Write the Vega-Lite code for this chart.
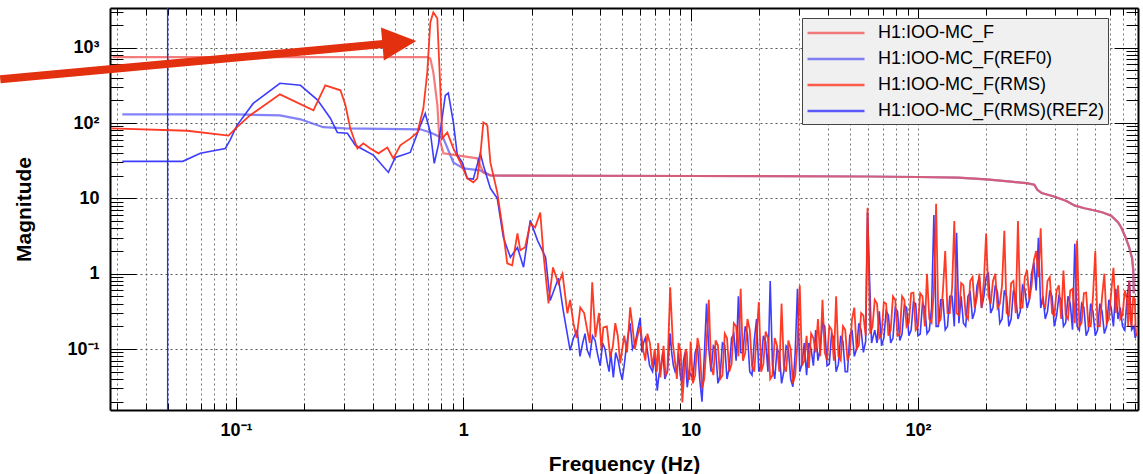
{
  "$schema": "https://vega.github.io/schema/vega-lite/v6.json",
  "width": 1028,
  "height": 402,
  "autosize": {"type": "none"},
  "padding": {"left": 110, "top": 8, "right": 5, "bottom": 64},
  "background": "white",
  "config": {
    "view": {"stroke": null},
    "font": "Liberation Sans",
    "axis": {"labelFont": "Liberation Sans", "titleFont": "Liberation Sans", "tickColor": "#000", "domainColor": "#000", "domainWidth": 2, "labelColor": "#000", "titleColor": "#000", "tickWidth": 1},
    "legend": {
      "orient": "none", "legendX": 692, "legendY": 10,
      "symbolType": "M-1,0H5", "symbolSize": 361, "symbolStrokeWidth": 2.5,
      "labelFont": "Liberation Sans", "labelFontSize": 18, "labelColor": "#000", "labelOffset": 50, "labelLimit": 500,
      "fillColor": "#f0f0f0", "strokeColor": "#444", "padding": 4, "rowPadding": 6, "cornerRadius": 0
    }
  },
  "datasets": {
    "tr": [
      {"s":"b","f":0.0316,"v":130},{"s":"b","f":0.101,"v":130},{"s":"b","f":0.156,"v":126},{"s":"b","f":0.192,"v":112},{"s":"b","f":0.242,"v":88},{"s":"b","f":0.303,"v":85},{"s":"b","f":0.647,"v":82.5},{"s":"b","f":0.716,"v":75},{"s":"b","f":0.817,"v":62.5},{"s":"b","f":0.904,"v":30},{"s":"b","f":1.0,"v":25},{"s":"b","f":1.188,"v":23.5},{"s":"b","f":1.315,"v":20.2},{"s":"b","f":1.5,"v":20},{"s":"b","f":10,"v":19.8},{"s":"b","f":60,"v":19.5},{"s":"b","f":100,"v":19.2},{"s":"b","f":150,"v":18.8},{"s":"b","f":200,"v":17.9},{"s":"b","f":250,"v":16.8},{"s":"b","f":300,"v":15.9},{"s":"b","f":325,"v":15.2},{"s":"b","f":335,"v":13},{"s":"b","f":350,"v":11.8},{"s":"b","f":400,"v":10.5},{"s":"b","f":450,"v":9.2},{"s":"b","f":490,"v":8.0},{"s":"b","f":540,"v":7.4},{"s":"b","f":600,"v":6.9},{"s":"b","f":650,"v":6.5},{"s":"b","f":708,"v":5.9},{"s":"b","f":760,"v":4.8},{"s":"b","f":784,"v":4.1},{"s":"b","f":820,"v":3.0},{"s":"b","f":851,"v":2.2},{"s":"b","f":875,"v":1.6},{"s":"b","f":886,"v":1.1},{"s":"b","f":890,"v":0.55},
      {"s":"a","f":0.0286,"v":750},{"s":"a","f":0.694,"v":750},{"s":"a","f":0.716,"v":720},{"s":"a","f":0.738,"v":471},{"s":"a","f":0.769,"v":172},{"s":"a","f":0.784,"v":62.5},{"s":"a","f":0.817,"v":39.6},{"s":"a","f":1.152,"v":34},{"s":"a","f":1.225,"v":22},{"s":"a","f":1.315,"v":20.2},{"s":"a","f":1.5,"v":20},{"s":"a","f":10,"v":19.8},{"s":"a","f":60,"v":19.5},{"s":"a","f":100,"v":19.2},{"s":"a","f":150,"v":18.8},{"s":"a","f":200,"v":17.9},{"s":"a","f":250,"v":16.8},{"s":"a","f":300,"v":15.9},{"s":"a","f":325,"v":15.2},{"s":"a","f":335,"v":13},{"s":"a","f":350,"v":11.8},{"s":"a","f":400,"v":10.5},{"s":"a","f":450,"v":9.2},{"s":"a","f":490,"v":8.0},{"s":"a","f":540,"v":7.4},{"s":"a","f":600,"v":6.9},{"s":"a","f":650,"v":6.5},{"s":"a","f":708,"v":5.9},{"s":"a","f":760,"v":4.8},{"s":"a","f":784,"v":4.1},{"s":"a","f":820,"v":3.0},{"s":"a","f":851,"v":2.2},{"s":"a","f":875,"v":1.6},{"s":"a","f":886,"v":1.1},{"s":"a","f":890,"v":0.55},
      {"s":"d","f":0.0316,"v":31},{"s":"d","f":0.0583,"v":31},{"s":"d","f":0.0697,"v":39.6},{"s":"d","f":0.0897,"v":46},{"s":"d","f":0.094,"v":59},{"s":"d","f":0.101,"v":93},{"s":"d","f":0.119,"v":182},{"s":"d","f":0.156,"v":337},{"s":"d","f":0.192,"v":317},{"s":"d","f":0.228,"v":203},{"s":"d","f":0.26,"v":116},{"s":"d","f":0.279,"v":75},{"s":"d","f":0.309,"v":73},{"s":"d","f":0.335,"v":50.6},{"s":"d","f":0.402,"v":37.5},{"s":"d","f":0.468,"v":22.1},{"s":"d","f":0.502,"v":35},{"s":"d","f":0.584,"v":40.7},{"s":"d","f":0.647,"v":93},{"s":"d","f":0.68,"v":134},{"s":"d","f":0.716,"v":75},{"s":"d","f":0.745,"v":29.2},{"s":"d","f":0.776,"v":50.6},{"s":"d","f":0.833,"v":232},{"s":"d","f":0.859,"v":250},{"s":"d","f":0.904,"v":102},{"s":"d","f":0.941,"v":37.5},{"s":"d","f":0.99,"v":30},{"s":"d","f":1.041,"v":18.4},{"s":"d","f":1.106,"v":18},{"s":"d","f":1.188,"v":39.6},{"s":"d","f":1.225,"v":27.5},{"s":"d","f":1.315,"v":13.6},{"s":"d","f":1.41,"v":10},{"s":"d","f":1.5,"v":3.03},{"s":"d","f":1.61,"v":1.65},{"s":"d","f":1.73,"v":2.23},{"s":"d","f":1.84,"v":1.22},{"s":"d","f":1.97,"v":5.1},{"s":"d","f":2.12,"v":2.77},{"s":"d","f":2.3,"v":1.65},{"s":"d","f":2.41,"v":0.44},{"s":"d","f":2.62,"v":0.87},{"s":"d","f":2.75,"v":0.326},{"s":"d","f":2.95,"v":0.096},{"s":"d","f":3.17,"v":0.177},{"s":"d","f":3.35,"v":0.12},{"s":"d","f":3.51,"v":0.096},{"s":"d","f":3.7,"v":0.15},{"s":"d","f":3.89,"v":0.087},{"s":"d","f":4.1,"v":0.12},{"s":"d","f":4.3,"v":0.065},{"s":"d","f":4.45,"v":0.09},{"s":"d","f":4.57,"v":0.042},{"s":"d","f":4.8,"v":0.07},{"s":"d","f":5.0,"v":0.039},{"s":"d","f":5.2,"v":0.1},{"s":"d","f":5.42,"v":0.22},{"s":"d","f":5.7,"v":0.12},{"s":"d","f":6.0,"v":0.26},{"s":"d","f":6.2,"v":0.12},{"s":"d","f":6.45,"v":0.096},{"s":"d","f":6.8,"v":0.05},{"s":"d","f":7.13,"v":0.028},{"s":"d","f":7.4,"v":0.06},{"s":"d","f":7.7,"v":0.04},{"s":"d","f":8.13,"v":0.16},{"s":"d","f":8.4,"v":0.06},{"s":"d","f":8.73,"v":0.057},{"s":"d","f":9.0,"v":0.045},{"s":"d","f":9.3,"v":0.07},{"s":"d","f":9.66,"v":0.031},
      {"s":"d","f":3.05,"v":0.14},{"s":"d","f":3.26,"v":0.08},{"s":"d","f":3.43,"v":0.16},{"s":"d","f":3.6,"v":0.08},{"s":"d","f":3.8,"v":0.13},{"s":"d","f":4.0,"v":0.06},{"s":"d","f":4.2,"v":0.1},{"s":"d","f":4.38,"v":0.05},{"s":"d","f":4.68,"v":0.09},{"s":"d","f":4.9,"v":0.05},{"s":"d","f":5.1,"v":0.06},{"s":"d","f":5.3,"v":0.15},{"s":"d","f":5.55,"v":0.1},{"s":"d","f":5.85,"v":0.18},{"s":"d","f":6.1,"v":0.09},{"s":"d","f":6.32,"v":0.14},{"s":"d","f":6.6,"v":0.06},{"s":"d","f":6.95,"v":0.08},{"s":"d","f":7.25,"v":0.045},{"s":"d","f":7.55,"v":0.09},{"s":"d","f":7.9,"v":0.05},{"s":"d","f":8.25,"v":0.09},{"s":"d","f":8.55,"v":0.05},{"s":"d","f":8.85,"v":0.09},{"s":"d","f":9.15,"v":0.035},{"s":"d","f":9.45,"v":0.09},{"s":"d","f":9.85,"v":0.05},
      {"s":"d","f":10.23,"v":0.04},{"s":"d","f":10.72,"v":0.112},{"s":"d","f":11.22,"v":0.02},{"s":"d","f":11.75,"v":0.4},{"s":"d","f":12.3,"v":0.05},{"s":"d","f":12.88,"v":0.1},{"s":"d","f":13.49,"v":0.045},{"s":"d","f":14.13,"v":0.112},{"s":"d","f":14.79,"v":0.056},{"s":"d","f":15.49,"v":0.158},{"s":"d","f":16.22,"v":0.5},{"s":"d","f":16.98,"v":0.089},{"s":"d","f":17.78,"v":0.158},{"s":"d","f":18.62,"v":0.045},{"s":"d","f":19.5,"v":0.25},{"s":"d","f":20.42,"v":0.063},{"s":"d","f":21.38,"v":0.126},{"s":"d","f":22.39,"v":0.8},{"s":"d","f":23.44,"v":0.04},{"s":"d","f":24.55,"v":0.089},{"s":"d","f":25.7,"v":0.05},{"s":"d","f":26.92,"v":0.1},{"s":"d","f":28.18,"v":0.0316},{"s":"d","f":29.51,"v":0.63},{"s":"d","f":30.9,"v":0.063},{"s":"d","f":32.36,"v":0.045},{"s":"d","f":33.88,"v":0.1},{"s":"d","f":35.48,"v":0.178},{"s":"d","f":37.15,"v":0.1},{"s":"d","f":38.9,"v":0.2},{"s":"d","f":40.74,"v":0.063},{"s":"d","f":42.66,"v":0.14},{"s":"d","f":44.67,"v":0.063},{"s":"d","f":46.77,"v":0.126},{"s":"d","f":48.98,"v":0.05},{"s":"d","f":51.29,"v":0.178},{"s":"d","f":53.7,"v":0.1},{"s":"d","f":56.23,"v":0.178},{"s":"d","f":58.88,"v":0.126},{"s":"d","f":60.0,"v":6.5},{"s":"d","f":64.57,"v":0.178},{"s":"d","f":67.61,"v":0.316},{"s":"d","f":70.79,"v":0.14},{"s":"d","f":74.13,"v":0.28},{"s":"d","f":77.62,"v":0.14},{"s":"d","f":81.28,"v":0.316},{"s":"d","f":85.11,"v":0.158},{"s":"d","f":89.13,"v":0.355},{"s":"d","f":93.33,"v":0.178},{"s":"d","f":97.72,"v":0.4},{"s":"d","f":102.3,"v":0.158},{"s":"d","f":107.2,"v":0.355},{"s":"d","f":112.2,"v":0.178},{"s":"d","f":117.5,"v":6.0},{"s":"d","f":123,"v":0.2},{"s":"d","f":128.8,"v":0.45},{"s":"d","f":134.9,"v":0.2},{"s":"d","f":141.3,"v":0.5},{"s":"d","f":147.9,"v":3.5},{"s":"d","f":154.9,"v":0.5},{"s":"d","f":162.2,"v":0.2},{"s":"d","f":169.8,"v":0.56},{"s":"d","f":177.8,"v":0.316},{"s":"d","f":186.2,"v":0.9},{"s":"d","f":195,"v":0.5},{"s":"d","f":204.2,"v":1.0},{"s":"d","f":213.8,"v":0.355},{"s":"d","f":223.9,"v":0.56},{"s":"d","f":234.4,"v":0.25},{"s":"d","f":245.5,"v":0.5},{"s":"d","f":257,"v":0.25},{"s":"d","f":269.2,"v":0.5},{"s":"d","f":281.8,"v":0.316},{"s":"d","f":295.1,"v":0.63},{"s":"d","f":309,"v":0.45},{"s":"d","f":323.6,"v":1.41},{"s":"d","f":338.8,"v":3.0},{"s":"d","f":354.8,"v":0.5},{"s":"d","f":371.5,"v":0.316},{"s":"d","f":389,"v":0.5},{"s":"d","f":407.4,"v":0.28},{"s":"d","f":426.6,"v":0.45},{"s":"d","f":446.7,"v":0.224},{"s":"d","f":467.7,"v":0.4},{"s":"d","f":489.8,"v":2.5},{"s":"d","f":512.9,"v":0.178},{"s":"d","f":537,"v":0.355},{"s":"d","f":562.3,"v":0.178},{"s":"d","f":588.8,"v":0.316},{"s":"d","f":616.6,"v":0.178},{"s":"d","f":645.7,"v":0.316},{"s":"d","f":676.1,"v":0.2},{"s":"d","f":707.9,"v":0.355},{"s":"d","f":741.3,"v":0.63},{"s":"d","f":776.2,"v":0.355},{"s":"d","f":812.8,"v":0.178},{"s":"d","f":851.1,"v":0.8},{"s":"d","f":891.3,"v":0.2},{"s":"d","f":915,"v":0.16},
      {"s":"d","f":10.47,"v":0.09},{"s":"d","f":10.96,"v":0.04},{"s":"d","f":11.48,"v":0.08},{"s":"d","f":12.02,"v":0.1},{"s":"d","f":12.59,"v":0.11},{"s":"d","f":13.18,"v":0.035},{"s":"d","f":13.8,"v":0.12},{"s":"d","f":14.45,"v":0.04},{"s":"d","f":15.14,"v":0.14},{"s":"d","f":15.85,"v":0.07},{"s":"d","f":16.6,"v":0.09},{"s":"d","f":17.38,"v":0.2},{"s":"d","f":18.2,"v":0.05},{"s":"d","f":19.05,"v":0.13},{"s":"d","f":19.95,"v":0.05},{"s":"d","f":20.89,"v":0.15},{"s":"d","f":21.88,"v":0.05},{"s":"d","f":22.91,"v":0.06},{"s":"d","f":23.99,"v":0.1},{"s":"d","f":25.12,"v":0.035},{"s":"d","f":26.3,"v":0.11},{"s":"d","f":27.54,"v":0.04},{"s":"d","f":28.84,"v":0.09},{"s":"d","f":30.2,"v":0.05},{"s":"d","f":31.62,"v":0.12},{"s":"d","f":33.11,"v":0.12},{"s":"d","f":34.67,"v":0.06},{"s":"d","f":36.31,"v":0.07},{"s":"d","f":38.02,"v":0.22},{"s":"d","f":39.81,"v":0.06},{"s":"d","f":41.69,"v":0.16},{"s":"d","f":43.65,"v":0.05},{"s":"d","f":45.71,"v":0.15},{"s":"d","f":47.86,"v":0.05},{"s":"d","f":50.12,"v":0.15},{"s":"d","f":52.48,"v":0.08},{"s":"d","f":54.95,"v":0.22},{"s":"d","f":57.54,"v":0.09},{"s":"d","f":62.5,"v":0.12},{"s":"d","f":66.07,"v":0.12},{"s":"d","f":69.18,"v":0.11},{"s":"d","f":72.44,"v":0.32},{"s":"d","f":75.86,"v":0.12},{"s":"d","f":79.43,"v":0.35},{"s":"d","f":83.18,"v":0.13},{"s":"d","f":87.1,"v":0.38},{"s":"d","f":91.2,"v":0.15},{"s":"d","f":95.5,"v":0.42},{"s":"d","f":100,"v":0.15},{"s":"d","f":104.7,"v":0.4},{"s":"d","f":109.6,"v":0.16},{"s":"d","f":114.8,"v":0.35},{"s":"d","f":120.2,"v":0.2},{"s":"d","f":125.9,"v":0.45},{"s":"d","f":131.8,"v":0.18},{"s":"d","f":138,"v":0.5},{"s":"d","f":144.5,"v":0.2},{"s":"d","f":151.4,"v":0.22},{"s":"d","f":158.5,"v":0.22},{"s":"d","f":166,"v":0.5},{"s":"d","f":173.8,"v":0.25},{"s":"d","f":182,"v":0.7},{"s":"d","f":190.5,"v":0.35},{"s":"d","f":199.5,"v":0.9},{"s":"d","f":208.9,"v":0.3},{"s":"d","f":218.8,"v":0.7},{"s":"d","f":229.1,"v":0.22},{"s":"d","f":239.9,"v":0.6},{"s":"d","f":251.2,"v":0.2},{"s":"d","f":263,"v":0.6},{"s":"d","f":275.4,"v":0.25},{"s":"d","f":288.4,"v":0.7},{"s":"d","f":302,"v":0.35},{"s":"d","f":316.2,"v":1.0},{"s":"d","f":331.1,"v":0.6},{"s":"d","f":346.7,"v":0.35},{"s":"d","f":363.1,"v":0.25},{"s":"d","f":380.2,"v":0.6},{"s":"d","f":398.1,"v":0.2},{"s":"d","f":416.9,"v":0.5},{"s":"d","f":436.5,"v":0.2},{"s":"d","f":457.1,"v":0.5},{"s":"d","f":478.6,"v":0.18},{"s":"d","f":501.2,"v":0.2},{"s":"d","f":524.8,"v":0.4},{"s":"d","f":549.5,"v":0.15},{"s":"d","f":575.4,"v":0.4},{"s":"d","f":602.6,"v":0.15},{"s":"d","f":631,"v":0.4},{"s":"d","f":660.7,"v":0.16},{"s":"d","f":691.8,"v":0.45},{"s":"d","f":724.4,"v":0.2},{"s":"d","f":758.6,"v":0.25},{"s":"d","f":794.3,"v":0.2},{"s":"d","f":831.8,"v":0.5},{"s":"d","f":871,"v":0.18},{"s":"d","f":903,"v":0.14},
      {"s":"c","f":0.0282,"v":85},{"s":"c","f":0.061,"v":79},{"s":"c","f":0.0927,"v":68},{"s":"c","f":0.101,"v":88},{"s":"c","f":0.1155,"v":127},{"s":"c","f":0.156,"v":240},{"s":"c","f":0.219,"v":147},{"s":"c","f":0.247,"v":317},{"s":"c","f":0.288,"v":272},{"s":"c","f":0.303,"v":172},{"s":"c","f":0.318,"v":85},{"s":"c","f":0.342,"v":46},{"s":"c","f":0.363,"v":53.7},{"s":"c","f":0.39,"v":46},{"s":"c","f":0.423,"v":39.6},{"s":"c","f":0.463,"v":47.3},{"s":"c","f":0.492,"v":34},{"s":"c","f":0.528,"v":50.6},{"s":"c","f":0.585,"v":62.5},{"s":"c","f":0.628,"v":75},{"s":"c","f":0.667,"v":157},{"s":"c","f":0.694,"v":471},{"s":"c","f":0.716,"v":2175},{"s":"c","f":0.738,"v":2950},{"s":"c","f":0.768,"v":2455},{"s":"c","f":0.792,"v":289},{"s":"c","f":0.808,"v":62.5},{"s":"c","f":0.85,"v":75},{"s":"c","f":0.904,"v":46},{"s":"c","f":0.97,"v":30},{"s":"c","f":1.041,"v":18.4},{"s":"c","f":1.106,"v":16.3},{"s":"c","f":1.152,"v":18.4},{"s":"c","f":1.188,"v":37.5},{"s":"c","f":1.225,"v":102},{"s":"c","f":1.275,"v":93},{"s":"c","f":1.315,"v":30},{"s":"c","f":1.41,"v":12},{"s":"c","f":1.5,"v":3.43},{"s":"c","f":1.56,"v":1.37},{"s":"c","f":1.64,"v":1.29},{"s":"c","f":1.73,"v":3.43},{"s":"c","f":1.78,"v":2.04},{"s":"c","f":1.87,"v":2.24},{"s":"c","f":1.97,"v":4.66},{"s":"c","f":2.07,"v":4.12},{"s":"c","f":2.18,"v":6.5},{"s":"c","f":2.25,"v":1.86},{"s":"c","f":2.37,"v":0.404},{"s":"c","f":2.48,"v":1.21},{"s":"c","f":2.62,"v":0.74},{"s":"c","f":2.73,"v":1.0},{"s":"c","f":2.87,"v":0.297},{"s":"c","f":3.05,"v":0.22},{"s":"c","f":3.27,"v":0.357},{"s":"c","f":3.51,"v":0.177},{"s":"c","f":3.69,"v":0.766},{"s":"c","f":3.81,"v":0.143},{"s":"c","f":4.13,"v":0.194},{"s":"c","f":4.43,"v":0.078},{"s":"c","f":4.66,"v":0.22},{"s":"c","f":4.9,"v":0.0645},{"s":"c","f":5.1,"v":0.15},{"s":"c","f":5.25,"v":0.09},{"s":"c","f":5.42,"v":0.357},{"s":"c","f":5.82,"v":0.143},{"s":"c","f":6.19,"v":0.096},{"s":"c","f":6.45,"v":0.16},{"s":"c","f":6.78,"v":0.057},{"s":"c","f":7.35,"v":0.042},{"s":"c","f":7.6,"v":0.11},{"s":"c","f":7.9,"v":0.05},{"s":"c","f":8.13,"v":0.66},{"s":"c","f":8.55,"v":0.0645},{"s":"c","f":8.85,"v":0.12},{"s":"c","f":9.19,"v":0.0195},{"s":"c","f":9.5,"v":0.1},{"s":"c","f":9.75,"v":0.04},
      {"s":"c","f":2.95,"v":0.45},{"s":"c","f":3.15,"v":0.14},{"s":"c","f":3.4,"v":0.3},{"s":"c","f":3.6,"v":0.12},{"s":"c","f":3.95,"v":0.3},{"s":"c","f":4.05,"v":0.1},{"s":"c","f":4.28,"v":0.2},{"s":"c","f":4.55,"v":0.11},{"s":"c","f":4.78,"v":0.15},{"s":"c","f":5.55,"v":0.2},{"s":"c","f":5.68,"v":0.1},{"s":"c","f":6.0,"v":0.2},{"s":"c","f":6.32,"v":0.07},{"s":"c","f":6.62,"v":0.12},{"s":"c","f":6.95,"v":0.1},{"s":"c","f":7.1,"v":0.05},{"s":"c","f":7.2,"v":0.12},{"s":"c","f":7.75,"v":0.045},{"s":"c","f":8.35,"v":0.12},{"s":"c","f":8.7,"v":0.04},{"s":"c","f":9.05,"v":0.09},{"s":"c","f":9.35,"v":0.045},{"s":"c","f":9.62,"v":0.09},{"s":"c","f":9.88,"v":0.04},
      {"s":"c","f":10.0,"v":0.126},{"s":"c","f":10.47,"v":0.045},{"s":"c","f":10.96,"v":0.1},{"s":"c","f":11.48,"v":0.04},{"s":"c","f":12.02,"v":0.45},{"s":"c","f":12.59,"v":0.045},{"s":"c","f":13.18,"v":0.112},{"s":"c","f":13.8,"v":0.045},{"s":"c","f":14.45,"v":0.14},{"s":"c","f":15.14,"v":0.063},{"s":"c","f":15.85,"v":0.2},{"s":"c","f":16.6,"v":0.63},{"s":"c","f":17.38,"v":0.089},{"s":"c","f":18.2,"v":0.18},{"s":"c","f":19.05,"v":0.05},{"s":"c","f":19.95,"v":0.42},{"s":"c","f":20.89,"v":0.063},{"s":"c","f":21.88,"v":0.14},{"s":"c","f":22.91,"v":0.045},{"s":"c","f":23.99,"v":0.112},{"s":"c","f":25.12,"v":0.4},{"s":"c","f":26.3,"v":0.05},{"s":"c","f":27.54,"v":0.1},{"s":"c","f":28.84,"v":0.045},{"s":"c","f":30.2,"v":0.7},{"s":"c","f":31.62,"v":0.07},{"s":"c","f":33.11,"v":0.056},{"s":"c","f":34.67,"v":0.14},{"s":"c","f":36.31,"v":0.25},{"s":"c","f":38.02,"v":0.45},{"s":"c","f":39.81,"v":0.071},{"s":"c","f":41.69,"v":0.18},{"s":"c","f":43.65,"v":0.5},{"s":"c","f":45.71,"v":0.071},{"s":"c","f":47.86,"v":0.18},{"s":"c","f":50.12,"v":0.089},{"s":"c","f":52.48,"v":0.355},{"s":"c","f":54.95,"v":0.112},{"s":"c","f":57.54,"v":0.28},{"s":"c","f":60.0,"v":7.5},{"s":"c","f":63.1,"v":0.2},{"s":"c","f":66.07,"v":0.4},{"s":"c","f":69.18,"v":0.158},{"s":"c","f":72.44,"v":0.4},{"s":"c","f":75.86,"v":0.178},{"s":"c","f":79.43,"v":0.45},{"s":"c","f":83.18,"v":0.158},{"s":"c","f":87.1,"v":0.45},{"s":"c","f":91.2,"v":0.224},{"s":"c","f":95.5,"v":0.56},{"s":"c","f":100,"v":0.2},{"s":"c","f":104.7,"v":0.5},{"s":"c","f":109.6,"v":1.0},{"s":"c","f":114.8,"v":0.224},{"s":"c","f":120.2,"v":8.5},{"s":"c","f":125.9,"v":0.25},{"s":"c","f":131.8,"v":2.0},{"s":"c","f":138,"v":0.3},{"s":"c","f":144.5,"v":5.0},{"s":"c","f":151.4,"v":0.28},{"s":"c","f":158.5,"v":0.7},{"s":"c","f":166,"v":0.25},{"s":"c","f":173.8,"v":0.9},{"s":"c","f":182,"v":0.5},{"s":"c","f":190.5,"v":0.35},{"s":"c","f":199.5,"v":3.4},{"s":"c","f":208.9,"v":0.4},{"s":"c","f":218.8,"v":1.0},{"s":"c","f":229.1,"v":0.4},{"s":"c","f":239.9,"v":3.7},{"s":"c","f":251.2,"v":0.28},{"s":"c","f":263,"v":0.8},{"s":"c","f":275.4,"v":5.0},{"s":"c","f":288.4,"v":0.355},{"s":"c","f":302,"v":1.12},{"s":"c","f":316.2,"v":0.7},{"s":"c","f":331.1,"v":2.0},{"s":"c","f":346.7,"v":4.0},{"s":"c","f":363.1,"v":0.355},{"s":"c","f":380.2,"v":0.9},{"s":"c","f":398.1,"v":0.28},{"s":"c","f":416.9,"v":0.7},{"s":"c","f":436.5,"v":1.1},{"s":"c","f":457.1,"v":0.25},{"s":"c","f":478.6,"v":0.63},{"s":"c","f":501.2,"v":2.75},{"s":"c","f":524.8,"v":0.224},{"s":"c","f":549.5,"v":0.56},{"s":"c","f":575.4,"v":0.2},{"s":"c","f":602.6,"v":2.0},{"s":"c","f":631,"v":0.2},{"s":"c","f":660.7,"v":1.0},{"s":"c","f":691.8,"v":0.25},{"s":"c","f":724.4,"v":1.2},{"s":"c","f":758.6,"v":0.7},{"s":"c","f":794.3,"v":0.28},{"s":"c","f":831.8,"v":0.45},{"s":"c","f":851,"v":0.81},{"s":"c","f":871,"v":0.2},{"s":"c","f":900,"v":0.45},{"s":"c","f":912,"v":0.15},
      {"s":"c","f":10.23,"v":0.035},{"s":"c","f":10.72,"v":0.14},{"s":"c","f":11.22,"v":0.03},{"s":"c","f":11.75,"v":0.12},{"s":"c","f":12.3,"v":0.06},{"s":"c","f":12.88,"v":0.13},{"s":"c","f":13.49,"v":0.04},{"s":"c","f":14.13,"v":0.16},{"s":"c","f":14.79,"v":0.05},{"s":"c","f":15.49,"v":0.22},{"s":"c","f":16.22,"v":0.08},{"s":"c","f":16.98,"v":0.07},{"s":"c","f":17.78,"v":0.25},{"s":"c","f":18.62,"v":0.06},{"s":"c","f":19.5,"v":0.15},{"s":"c","f":20.42,"v":0.05},{"s":"c","f":21.38,"v":0.17},{"s":"c","f":22.39,"v":0.04},{"s":"c","f":23.44,"v":0.14},{"s":"c","f":24.55,"v":0.05},{"s":"c","f":25.7,"v":0.06},{"s":"c","f":26.92,"v":0.13},{"s":"c","f":28.18,"v":0.035},{"s":"c","f":29.51,"v":0.12},{"s":"c","f":30.9,"v":0.06},{"s":"c","f":32.36,"v":0.15},{"s":"c","f":33.88,"v":0.16},{"s":"c","f":35.48,"v":0.09},{"s":"c","f":37.15,"v":0.08},{"s":"c","f":38.9,"v":0.09},{"s":"c","f":40.74,"v":0.2},{"s":"c","f":42.66,"v":0.07},{"s":"c","f":44.67,"v":0.08},{"s":"c","f":46.77,"v":0.2},{"s":"c","f":48.98,"v":0.07},{"s":"c","f":51.29,"v":0.25},{"s":"c","f":53.7,"v":0.1},{"s":"c","f":56.23,"v":0.3},{"s":"c","f":58.88,"v":0.15},{"s":"c","f":61.66,"v":0.16},{"s":"c","f":64.57,"v":0.45},{"s":"c","f":67.61,"v":0.14},{"s":"c","f":70.79,"v":0.42},{"s":"c","f":74.13,"v":0.15},{"s":"c","f":77.62,"v":0.5},{"s":"c","f":81.28,"v":0.15},{"s":"c","f":85.11,"v":0.5},{"s":"c","f":89.13,"v":0.2},{"s":"c","f":93.33,"v":0.55},{"s":"c","f":97.72,"v":0.18},{"s":"c","f":102.3,"v":0.55},{"s":"c","f":107.2,"v":0.2},{"s":"c","f":112.2,"v":0.25},{"s":"c","f":117.5,"v":0.6},{"s":"c","f":123,"v":0.22},{"s":"c","f":128.8,"v":0.6},{"s":"c","f":134.9,"v":0.3},{"s":"c","f":141.3,"v":0.65},{"s":"c","f":147.9,"v":0.3},{"s":"c","f":154.9,"v":0.75},{"s":"c","f":162.2,"v":0.28},{"s":"c","f":169.8,"v":0.8},{"s":"c","f":177.8,"v":0.35},{"s":"c","f":186.2,"v":1.0},{"s":"c","f":195,"v":0.8},{"s":"c","f":204.2,"v":0.5},{"s":"c","f":213.8,"v":0.8},{"s":"c","f":223.9,"v":0.35},{"s":"c","f":234.4,"v":0.7},{"s":"c","f":245.5,"v":0.3},{"s":"c","f":257,"v":0.75},{"s":"c","f":269.2,"v":0.3},{"s":"c","f":281.8,"v":0.35},{"s":"c","f":295.1,"v":0.9},{"s":"c","f":309,"v":0.45},{"s":"c","f":323.6,"v":1.5},{"s":"c","f":338.8,"v":0.9},{"s":"c","f":354.8,"v":0.4},{"s":"c","f":371.5,"v":0.8},{"s":"c","f":389,"v":0.3},{"s":"c","f":407.4,"v":0.6},{"s":"c","f":426.6,"v":0.25},{"s":"c","f":446.7,"v":0.28},{"s":"c","f":467.7,"v":0.6},{"s":"c","f":489.8,"v":0.22},{"s":"c","f":512.9,"v":0.2},{"s":"c","f":537,"v":0.55},{"s":"c","f":562.3,"v":0.2},{"s":"c","f":588.8,"v":0.5},{"s":"c","f":616.6,"v":0.2},{"s":"c","f":645.7,"v":0.5},{"s":"c","f":676.1,"v":0.22},{"s":"c","f":707.9,"v":0.55},{"s":"c","f":741.3,"v":0.3},{"s":"c","f":776.2,"v":0.25},{"s":"c","f":812.8,"v":0.6},{"s":"c","f":841,"v":0.2},{"s":"c","f":861,"v":0.25},{"s":"c","f":885,"v":0.5},{"s":"c","f":906,"v":0.2}
    ],
    "vline": [{"f": 0.05}],
    "arrow": [{"f": 0.00918, "v": 380, "f2": 0.523, "v2": 1170}]
  },
  "resolve": {"axis": {"x": "independent", "y": "independent"}},
  "layer": [
    {
      "data": {"name": "tr"},
      "transform": [{"filter": "datum.s == 'b'"}],
      "mark": {"type": "line", "clip": true, "strokeWidth": 2.2, "opacity": 0.75},
      "encoding": {
        "x": {"field": "f", "type": "quantitative", "scale": {"type": "log", "domain": [0.0279, 929]},
          "axis": {
            "orient": "bottom",
            "values": [0.03,0.04,0.05,0.06,0.07,0.08,0.09,0.1,0.2,0.3,0.4,0.5,0.6,0.7,0.8,0.9,1,2,3,4,5,6,7,8,9,10,20,30,40,50,60,70,80,90,100,200,300,400,500,600,700,800,900],
            "labelExpr": "datum.value == 0.1 ? '10⁻¹' : datum.value == 1 ? '1' : datum.value == 10 ? '10' : datum.value == 100 ? '10²' : ''",
            "labelFontSize": 18, "labelFontWeight": "bold", "labelPadding": 24, "labelFlush": false, "labelOverlap": false, "labelBound": false,
            "tickSize": {"condition": {"test": "datum.value == 0.1 || datum.value == 1 || datum.value == 10 || datum.value == 100", "value": -13}, "value": -7},
            "grid": true, "gridDash": [2, 3], "gridColor": "#777", "gridWidth": 1,
            "title": "Frequency (Hz)", "titleFontSize": 21, "titleFontWeight": "bold", "titlePadding": 8
          }},
        "y": {"field": "v", "type": "quantitative", "scale": {"type": "log", "domain": [0.0155, 3365]},
          "axis": {
            "orient": "left",
            "values": [0.02,0.03,0.04,0.05,0.06,0.07,0.08,0.09,0.1,0.2,0.3,0.4,0.5,0.6,0.7,0.8,0.9,1,2,3,4,5,6,7,8,9,10,20,30,40,50,60,70,80,90,100,200,300,400,500,600,700,800,900,1000,2000,3000],
            "labelExpr": "datum.value == 0.1 ? '10⁻¹' : datum.value == 1 ? '1' : datum.value == 10 ? '10' : datum.value == 100 ? '10²' : datum.value == 1000 ? '10³' : ''",
            "labelFontSize": 18, "labelFontWeight": "bold", "labelPadding": 37, "labelFlush": false, "labelOverlap": false, "labelBound": false,
            "tickSize": {"condition": {"test": "datum.value == 0.1 || datum.value == 1 || datum.value == 10 || datum.value == 100 || datum.value == 1000", "value": -26}, "value": -13},
            "grid": true, "gridDash": [2, 3], "gridColor": "#555", "gridWidth": 1,
            "gridOpacity": {"condition": {"test": "datum.value == 0.1 || datum.value == 1 || datum.value == 10 || datum.value == 100 || datum.value == 1000", "value": 1}, "value": 0},
            "title": "Magnitude", "titleFontSize": 21, "titleFontWeight": "bold", "titlePadding": 32
          }},
        "color": {"field": "s", "type": "nominal", "scale": {"domain": ["a","b","c","d"], "range": ["#f05050","#5a5af5","#ff2a14","#2828ff"]},
          "legend": {"title": null, "labelExpr": "datum.label == 'a' ? 'H1:IOO-MC_F' : datum.label == 'b' ? 'H1:IOO-MC_F(REF0)' : datum.label == 'c' ? 'H1:IOO-MC_F(RMS)' : 'H1:IOO-MC_F(RMS)(REF2)'"}}
      }
    },
    {
      "data": {"name": "tr"},
      "transform": [{"filter": "datum.s == 'a'"}],
      "mark": {"type": "line", "clip": true, "strokeWidth": 2.2, "opacity": 0.75},
      "encoding": {
        "x": {"field": "f", "type": "quantitative", "scale": {"type": "log", "domain": [0.0279, 929]}, "axis": null},
        "y": {"field": "v", "type": "quantitative", "scale": {"type": "log", "domain": [0.0155, 3365]}, "axis": null},
        "color": {"field": "s", "type": "nominal", "scale": {"domain": ["a","b","c","d"], "range": ["#f05050","#5a5af5","#ff2a14","#2828ff"]},
          "legend": {"title": null, "labelExpr": "datum.label == 'a' ? 'H1:IOO-MC_F' : datum.label == 'b' ? 'H1:IOO-MC_F(REF0)' : datum.label == 'c' ? 'H1:IOO-MC_F(RMS)' : 'H1:IOO-MC_F(RMS)(REF2)'"}}
      }
    },
    {
      "data": {"name": "vline"},
      "mark": {"type": "rule", "color": "#2a2aff", "strokeWidth": 1.3},
      "encoding": {
        "x": {"field": "f", "type": "quantitative", "scale": {"type": "log", "domain": [0.0279, 929]}, "axis": null}
      }
    },
    {
      "data": {"name": "tr"},
      "transform": [{"filter": "datum.s == 'd'"}],
      "mark": {"type": "line", "clip": true, "strokeWidth": 1.6, "opacity": 0.9},
      "encoding": {
        "x": {"field": "f", "type": "quantitative", "scale": {"type": "log", "domain": [0.0279, 929]}, "axis": null},
        "y": {"field": "v", "type": "quantitative", "scale": {"type": "log", "domain": [0.0155, 3365]}, "axis": null},
        "color": {"field": "s", "type": "nominal", "scale": {"domain": ["a","b","c","d"], "range": ["#f05050","#5a5af5","#ff2a14","#2828ff"]},
          "legend": {"title": null, "labelExpr": "datum.label == 'a' ? 'H1:IOO-MC_F' : datum.label == 'b' ? 'H1:IOO-MC_F(REF0)' : datum.label == 'c' ? 'H1:IOO-MC_F(RMS)' : 'H1:IOO-MC_F(RMS)(REF2)'"}}
      }
    },
    {
      "data": {"name": "tr"},
      "transform": [{"filter": "datum.s == 'c'"}],
      "mark": {"type": "line", "clip": true, "strokeWidth": 1.8, "opacity": 0.92},
      "encoding": {
        "x": {"field": "f", "type": "quantitative", "scale": {"type": "log", "domain": [0.0279, 929]}, "axis": null},
        "y": {"field": "v", "type": "quantitative", "scale": {"type": "log", "domain": [0.0155, 3365]}, "axis": null},
        "color": {"field": "s", "type": "nominal", "scale": {"domain": ["a","b","c","d"], "range": ["#f05050","#5a5af5","#ff2a14","#2828ff"]},
          "legend": {"title": null, "labelExpr": "datum.label == 'a' ? 'H1:IOO-MC_F' : datum.label == 'b' ? 'H1:IOO-MC_F(REF0)' : datum.label == 'c' ? 'H1:IOO-MC_F(RMS)' : 'H1:IOO-MC_F(RMS)(REF2)'"}}
      }
    },
    {
      "data": {"name": "arrow"},
      "mark": {"type": "rule", "color": "#e3300e", "strokeWidth": 8, "strokeCap": "butt"},
      "encoding": {
        "x": {"field": "f", "type": "quantitative", "scale": {"type": "log", "domain": [0.0279, 929]},
          "axis": {
            "orient": "top",
            "values": [0.03,0.04,0.05,0.06,0.07,0.08,0.09,0.1,0.2,0.3,0.4,0.5,0.6,0.7,0.8,0.9,1,2,3,4,5,6,7,8,9,10,20,30,40,50,60,70,80,90,100,200,300,400,500,600,700,800,900],
            "labels": false, "grid": false, "title": null,
            "tickSize": {"condition": {"test": "datum.value == 0.1 || datum.value == 1 || datum.value == 10 || datum.value == 100", "value": -13}, "value": -7}
          }},
        "x2": {"field": "f2"},
        "y": {"field": "v", "type": "quantitative", "scale": {"type": "log", "domain": [0.0155, 3365]},
          "axis": {
            "orient": "right",
            "values": [0.02,0.03,0.04,0.05,0.06,0.07,0.08,0.09,0.1,0.2,0.3,0.4,0.5,0.6,0.7,0.8,0.9,1,2,3,4,5,6,7,8,9,10,20,30,40,50,60,70,80,90,100,200,300,400,500,600,700,800,900,1000,2000,3000],
            "labels": false, "grid": false, "title": null,
            "tickSize": {"condition": {"test": "datum.value == 0.1 || datum.value == 1 || datum.value == 10 || datum.value == 100 || datum.value == 1000", "value": -24}, "value": -12}
          }},
        "y2": {"field": "v2"}
      }
    },
    {
      "data": {"name": "arrow"},
      "mark": {"type": "point", "shape": "M-1,-0.97L1,0L-1,0.97Z", "filled": true, "color": "#e3300e", "opacity": 1, "size": 1156, "angle": -5, "strokeWidth": 0},
      "encoding": {
        "x": {"field": "f2", "type": "quantitative", "scale": {"type": "log", "domain": [0.0279, 929]}, "axis": null},
        "y": {"field": "v2", "type": "quantitative", "scale": {"type": "log", "domain": [0.0155, 3365]}, "axis": null}
      }
    }
  ]
}
